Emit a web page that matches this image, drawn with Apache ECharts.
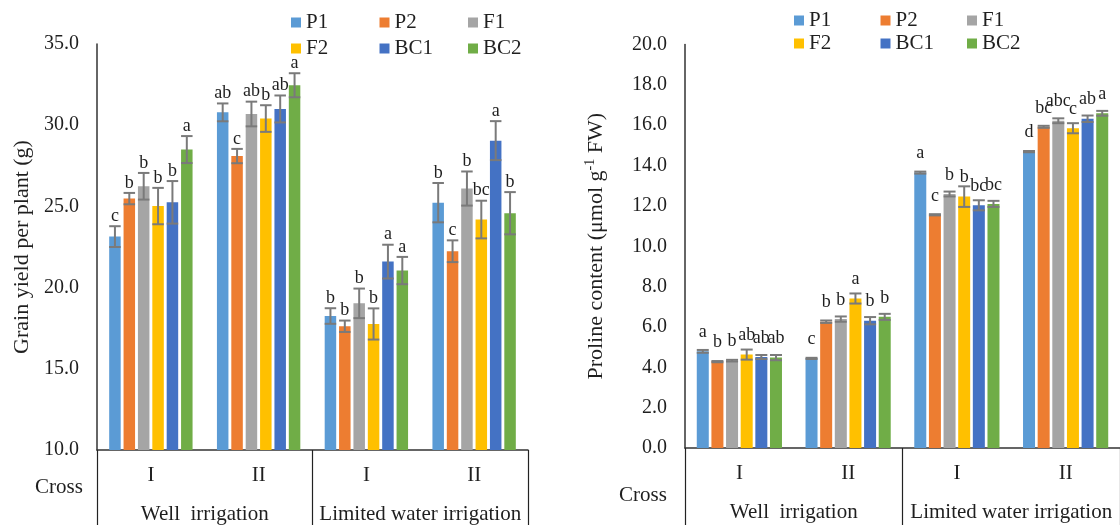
<!DOCTYPE html>
<html>
<head>
<meta charset="utf-8">
<script src="https://cdn.jsdelivr.net/npm/echarts@6/dist/echarts.min.js"></script>
<style>
html,body{margin:0;padding:0;background:#fff;}
#chart{width:1120px;height:525px;}
</style>
</head>
<body>
<div id="chart"></div>
<script>
// ---- data ----
const seriesNames = ['P1', 'P2', 'F1', 'F2', 'BC1', 'BC2'];
const crossLabels = ['I', 'II', 'I', 'II'];
const irrigationLabels = ['Well  irrigation', 'Limited water irrigation'];
const colors = ['#5B9BD5', '#ED7D31', '#A5A5A5', '#FFC000', '#4472C4', '#70AD47'];

// Grain yield per plant (g): rows = series (P1..BC2), cols = WI-I, WI-II, LWI-I, LWI-II
const yieldMeans = [
  [23.14, 30.79, 18.25, 25.23],
  [25.48, 28.10, 17.62, 22.24],
  [26.24, 30.69, 19.03, 26.10],
  [25.02, 30.41, 17.76, 24.19],
  [25.25, 31.00, 21.60, 29.05],
  [28.50, 32.46, 21.05, 24.58]
];
const yieldErrors = [
  [0.64, 0.55, 0.48, 1.21],
  [0.35, 0.44, 0.35, 0.67],
  [0.82, 0.76, 0.91, 1.05],
  [1.12, 0.82, 0.96, 1.16],
  [1.31, 0.83, 1.04, 1.20],
  [0.83, 0.74, 0.84, 1.30]
];
const yieldLetters = [
  ['c', 'ab', 'b', 'b'],
  ['b', 'c', 'b', 'c'],
  ['b', 'ab', 'b', 'b'],
  ['b', 'b', 'b', 'bc'],
  ['b', 'ab', 'a', 'a'],
  ['a', 'a', 'a', 'b']
];
const yieldTicks = [10, 15, 20, 25, 30, 35];

// Proline content (umol g-1 FW)
const prolineMeans = [
  [4.79, 4.44, 13.65, 14.69],
  [4.28, 6.26, 11.56, 15.92],
  [4.33, 6.39, 12.59, 16.22],
  [4.63, 7.41, 12.46, 15.85],
  [4.51, 6.31, 12.03, 16.32],
  [4.48, 6.50, 12.10, 16.59]
];
const prolineErrors = [
  [0.07, 0.03, 0.05, 0.03],
  [0.03, 0.06, 0.03, 0.05],
  [0.04, 0.13, 0.12, 0.12],
  [0.25, 0.25, 0.51, 0.25],
  [0.10, 0.18, 0.25, 0.16],
  [0.13, 0.15, 0.15, 0.12]
];
const prolineLetters = [
  ['a', 'c', 'a', 'd'],
  ['b', 'b', 'c', 'bc'],
  ['b', 'b', 'b', 'abc'],
  ['ab', 'a', 'b', 'c'],
  ['ab', 'b', 'bc', 'ab'],
  ['ab', 'b', 'bc', 'a']
];
const prolineTicks = [0, 2, 4, 6, 8, 10, 12, 14, 16, 18, 20];

// ---- chart ----
const FONT = 'Liberation Serif';
const TXT = '#1f1f1f';

const chart = echarts.init(document.getElementById('chart'), null, {renderer: 'canvas'});

function makeErrSeries(gridIdx, means, errs, letters, barWidth, gapRatio, letterMode) {
  const data = [];
  for (let s = 0; s < means.length; s++) {
    for (let c = 0; c < means[s].length; c++) {
      data.push([c, means[s][c], errs[s][c], s, letters[s][c]]);
    }
  }
  const pitch = barWidth * (1 + gapRatio);
  return {
    type: 'custom',
    xAxisIndex: gridIdx * 2,
    yAxisIndex: gridIdx,
    z: 10,
    silent: true,
    data: data,
    encode: {x: 0, y: 1},
    renderItem: function (params, api) {
      const c = api.value(0), v = api.value(1), e = api.value(2), s = api.value(3);
      const letter = data[params.dataIndex][4];
      const center = api.coord([c, v]);
      const x = center[0] + (s - 2.5) * pitch;
      const top = api.coord([c, v + e])[1];
      const bot = api.coord([c, v - e])[1];
      const half = barWidth / 2;
      const st = {stroke: '#7a7a7a', lineWidth: 2};
      const ly = letterMode === 'cap' ? top - 10 : center[1] - 19;
      return {
        type: 'group',
        children: [
          {type: 'line', shape: {x1: x, y1: top, x2: x, y2: bot}, style: st},
          {type: 'line', shape: {x1: x - half, y1: top, x2: x + half, y2: top}, style: st},
          {type: 'line', shape: {x1: x - half, y1: bot, x2: x + half, y2: bot}, style: st},
          {type: 'text', x: x, y: ly, style: {text: letter, fill: TXT, font: '18px "' + FONT + '"', align: 'center', verticalAlign: 'middle'}}
        ]
      };
    }
  };
}

function makeBars(gridIdx, means, barWidth, gap) {
  return seriesNames.map((n, i) => ({
    name: n,
    type: 'bar',
    xAxisIndex: gridIdx * 2,
    yAxisIndex: gridIdx,
    data: means[i],
    barWidth: barWidth,
    barGap: gap,
    itemStyle: {color: colors[i]},
    silent: true
  }));
}

function xAxes(gridIdx) {
  return [
    {
      gridIndex: gridIdx, type: 'category', data: crossLabels, position: 'bottom',
      axisLine: {show: true, lineStyle: {color: '#333', width: 1.5}},
      axisTick: {show: false},
      axisLabel: {interval: 0, margin: 15, fontFamily: FONT, fontSize: 21, color: TXT}
    },
    {
      gridIndex: gridIdx, type: 'category', data: irrigationLabels, position: 'bottom',
      axisLine: {show: false},
      axisTick: {show: true, interval: 0, length: 80, lineStyle: {color: '#222', width: 1.2}},
      axisLabel: {interval: 0, hideOverlap: false, margin: 54, fontFamily: FONT, fontSize: 21, color: TXT}
    }
  ];
}

function legends(left, top1, top2, pitch) {
  const out = [];
  seriesNames.forEach((n, i) => {
    out.push({
      orient: 'horizontal', icon: 'rect', itemWidth: 10, itemHeight: 10, itemGap: 0, itemTextGap: 4,
      selectedMode: false, padding: 0,
      left: left + (i % 3) * pitch,
      top: i < 3 ? top1 : top2,
      data: [n],
      textStyle: {fontFamily: FONT, fontSize: 21, color: TXT}
    });
  });
  return out;
}

const option = {
  animation: false,
  backgroundColor: '#fff',
  legend: legends(291, 12, 38, 88.5).concat(legends(794, 10, 33, 86.5)),
  grid: [
    {left: 97, right: 592, top: 44, bottom: 73},
    {left: 685, right: -7, top: 44.5, bottom: 77}
  ],
  xAxis: xAxes(0).concat(xAxes(1)),
  yAxis: [
    {
      gridIndex: 0, type: 'value', min: yieldTicks[0], max: yieldTicks[yieldTicks.length - 1], interval: 5,
      axisLine: {show: true, lineStyle: {color: '#333', width: 1.5}},
      axisTick: {show: false}, splitLine: {show: false},
      axisLabel: {margin: 18, fontFamily: FONT, fontSize: 20, color: TXT, formatter: v => v.toFixed(1)},
      name: 'Grain yield per plant (g)', nameLocation: 'middle', nameRotate: 90, nameGap: 64,
      nameTextStyle: {fontFamily: FONT, fontSize: 22, color: TXT}
    },
    {
      gridIndex: 1, type: 'value', min: prolineTicks[0], max: prolineTicks[prolineTicks.length - 1], interval: 2,
      axisLine: {show: true, lineStyle: {color: '#333', width: 1.5}},
      axisTick: {show: false}, splitLine: {show: false},
      axisLabel: {margin: 18, fontFamily: FONT, fontSize: 20, color: TXT, formatter: v => v.toFixed(1)},
      name: 'Proline content (μmol g{sup|-1} FW)', nameLocation: 'middle', nameRotate: 90, nameGap: 76,
      nameTextStyle: {
        fontFamily: FONT, fontSize: 22, color: TXT, lineHeight: 26,
        rich: {sup: {fontFamily: FONT, fontSize: 14, color: TXT, verticalAlign: 'top', lineHeight: 26, padding: [0, 0, 10, 0]}}
      }
    }
  ],
  graphic: [
    {type: 'text', left: 35, top: 477, style: {text: 'Cross', font: '21px "' + FONT + '"', fill: TXT}},
    {type: 'text', left: 619, top: 485, style: {text: 'Cross', font: '21px "' + FONT + '"', fill: TXT}}
  ],
  series: makeBars(0, yieldMeans, 11.5, '25%')
    .concat([makeErrSeries(0, yieldMeans, yieldErrors, yieldLetters, 11.5, 0.25, 'cap')])
    .concat(makeBars(1, prolineMeans, 12, '22%'))
    .concat([makeErrSeries(1, prolineMeans, prolineErrors, prolineLetters, 12, 0.22, 'bar')])
};
chart.setOption(option);
</script>
</body>
</html>
